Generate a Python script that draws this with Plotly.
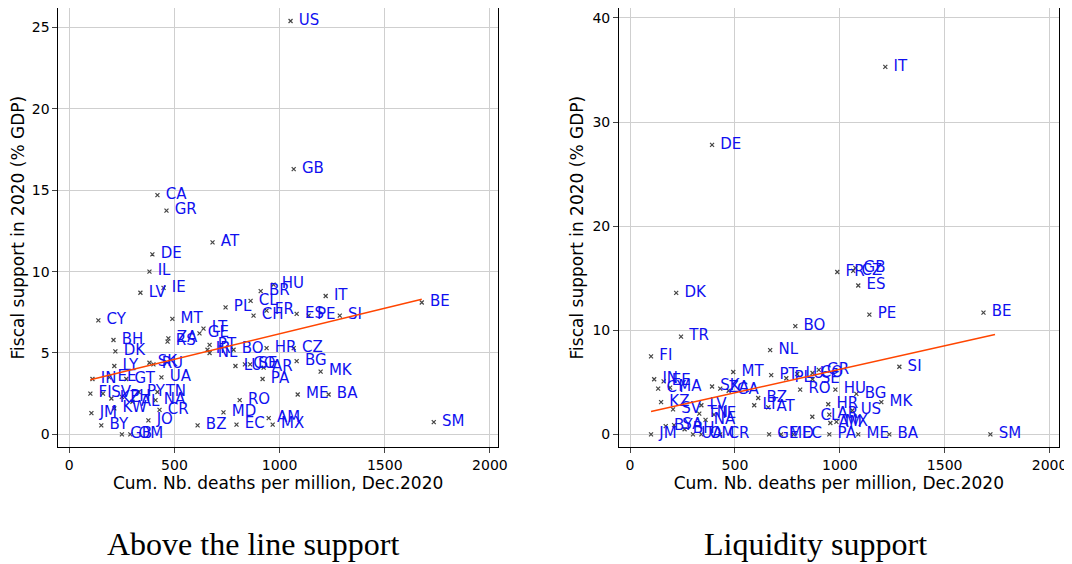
import plotly.graph_objects as go

# left panel: above the line support
a_lab = ["US","GB","CA","GR","AT","DE","IL","IE","LV","HU","BR","CL","PL","FR","ES","CH","PE","IT","SI","BE",
         "CY","MT","LT","GE","ZA","RS","BH","DK","PT","IR","NL","BO","HR","CZ","BG","LU","CO","SE","AR","MK","PA",
         "LY","SK","RU","IN","EE","GT","UA","FI","SV","KZ","PY","TN","NA","AL","PH","CR","KW","JM","JO","BY",
         "GB","OM","RO","MD","BZ","EC","AM","MX","ME","BA","SM"]
a_x = [1052,1067,419,462,681,395,381,448,338,971,910,862,743,938,1081,876,1138,1219,1286,1676,
       138,490,638,619,471,467,210,219,667,657,667,781,938,1067,1081,790,835,860,924,1195,919,
       214,381,400,110,190,271,438,100,160,200,330,419,410,300,250,429,214,105,376,152,
       250,290,810,733,610,795,948,967,1086,1233,1733]
a_y = [25.4,16.3,14.7,13.75,11.8,11.06,10.0,9.0,8.7,9.2,8.8,8.2,7.8,7.6,7.4,7.3,7.3,8.5,7.3,8.1,
       7.0,7.1,6.5,6.2,5.9,5.7,5.8,5.1,5.5,5.2,5.0,5.2,5.3,5.3,4.5,4.2,4.3,4.3,4.1,3.85,3.4,
       4.2,4.4,4.3,3.4,3.5,3.4,3.5,2.5,2.5,2.2,2.6,2.6,2.1,2.0,2.3,1.5,1.6,1.3,0.86,0.55,
       0.0,0.0,2.1,1.35,0.55,0.6,1.0,0.6,2.45,2.45,0.75]
a_fit_x = [100, 1676]
a_fit_y = [3.35, 8.3]

# right panel: liquidity support
l_lab = ["IT","DE","GB","FR","CZ","ES","PE","BE","DK","BO","TR","NL","FI","MT","SI","PT","PL","LU","CO","GR","SE",
         "RO","HU","BG","MK","US","HR","CL","AR","AM","MX","BZ","LT","AT","IN","EE","CY","MA","KZ","SV","LV","SK","ZA",
         "GA","TN","IE","NA","JM","BY","SA","BH","UA","OM","CR","GE","MD","EC","PA","ME","BA","SM"]
l_x = [1217,391,1074,988,1064,1088,1141,1685,220,788,243,668,100,492,1284,673,745,797,870,900,870,
       811,979,1079,1198,1060,945,869,950,955,984,611,592,659,115,160,134,191,148,205,340,391,430,
       470,330,400,360,100,170,210,260,300,340,430,663,720,780,950,1088,1236,1718]
l_y = [35.3,27.8,16.0,15.6,15.7,14.3,11.5,11.7,13.6,10.4,9.4,8.1,7.5,6.0,6.5,5.7,5.4,5.8,5.9,6.2,5.3,
       4.3,4.3,3.9,3.1,2.3,2.9,1.7,1.9,1.1,1.2,3.5,2.8,2.6,5.3,5.1,4.4,4.5,3.1,2.4,2.8,4.6,4.4,
       4.2,2.0,1.9,1.4,0.0,0.8,0.9,0.5,0.0,0.0,0.0,0.0,0.0,0.0,0.0,0.0,0.0,0.0]
l_fit_x = [100, 1740]
l_fit_y = [2.2, 9.6]

fig = go.Figure()
for xs, ys, labs, fx, fy, ax in [(a_x, a_y, a_lab, a_fit_x, a_fit_y, ""),
                                 (l_x, l_y, l_lab, l_fit_x, l_fit_y, "2")]:
    fig.add_trace(go.Scatter(x=xs, y=ys, mode="markers+text", text=labs, texttemplate=" %{text}",
                             textposition="middle right",
                             marker=dict(symbol="x-thin", size=4, line=dict(width=1.2, color="#444")),
                             textfont=dict(color="#1010f0", size=15, family="DejaVu Sans"),
                             xaxis="x" + ax, yaxis="y" + ax, showlegend=False, cliponaxis=False))
    fig.add_trace(go.Scatter(x=fx, y=fy, mode="lines", line=dict(color="#ff4500", width=1.5),
                             xaxis="x" + ax, yaxis="y" + ax, showlegend=False))

axstyle = dict(showgrid=True, gridcolor="#cfcfcf", zeroline=False, showline=True, linecolor="black",
               mirror=True, ticks="outside", automargin=False,
               tickfont=dict(size=14, family="DejaVu Sans", color="black"))
xt = dict(text="Cum. Nb. deaths per million, Dec.2020", font=dict(size=17), standoff=0)
yt = dict(text="Fiscal support in 2020 (% GDP)", font=dict(size=17), standoff=4)
# page shows ~8px offset, so domains are nudged left/up
fig.update_layout(
    width=1072, height=564, margin=dict(l=0, r=0, t=0, b=0),
    plot_bgcolor="white", paper_bgcolor="white",
    font=dict(family="DejaVu Sans", color="black"),
    xaxis=dict(domain=[0.047, 0.457], range=[-52, 2038], tickvals=[0, 500, 1000, 1500, 2000],
               title=xt, **axstyle),
    yaxis=dict(domain=[0.221, 1.0], range=[-0.8, 26.2], tickvals=[0, 5, 10, 15, 20, 25],
               title=yt, **axstyle),
    xaxis2=dict(domain=[0.570, 0.980], range=[-52.5, 2043], tickvals=[0, 500, 1000, 1500, 2000], anchor="y2",
                title=xt, **axstyle),
    yaxis2=dict(domain=[0.221, 1.0], range=[-1.24, 40.95], tickvals=[0, 10, 20, 30, 40], anchor="x2",
                title=yt, **axstyle),
    annotations=[
        dict(text="Above the line support", x=0.229, y=8 / 564, xref="paper", yref="paper",
             xanchor="center", showarrow=False, font=dict(family="Liberation Serif", size=32)),
        dict(text="Liquidity support", x=0.753, y=8 / 564, xref="paper", yref="paper",
             xanchor="center", showarrow=False, font=dict(family="Liberation Serif", size=32)),
    ],
)
fig.write_html("out.html")
